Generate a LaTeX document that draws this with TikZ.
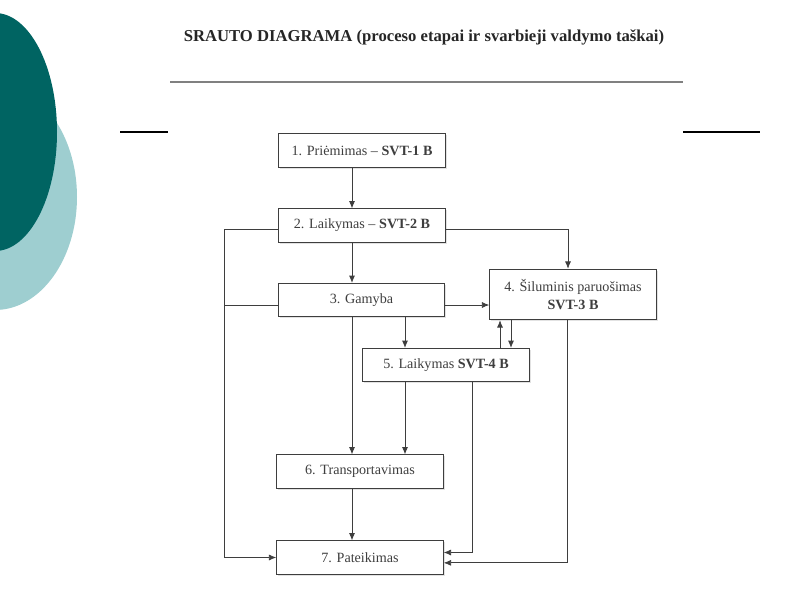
\documentclass[tikz,border=0pt]{standalone}
\usepackage{fontspec}
\setmainfont{Liberation Serif}
\usepackage{tikz}
\usetikzlibrary{arrows.meta}
\usetikzlibrary{shadows}
\definecolor{darkteal}{RGB}{0,100,98}
\definecolor{lightteal}{RGB}{158,206,208}
\definecolor{inkgray}{RGB}{62,62,62}

\begin{document}
\begin{tikzpicture}[x=0.75pt,y=-0.75pt,
        stage/.style={draw=inkgray,fill=white,line width=0.6pt,
            minimum width=125pt,minimum height=25pt,inner sep=2pt,
            text=inkgray,font=\fontsize{10.6}{13}\selectfont,
            drop shadow={shadow xshift=1.2pt,shadow yshift=-1.2pt,fill=gray!45}},
        flow/.style={draw=inkgray,line width=0.6pt,-{Latex[length=5.5pt,width=4.5pt]}}]
        \useasboundingbox (0,0) rectangle (800,600);

        % Background
        \fill [lightteal] (-5,197) ellipse [x radius=82, y radius=113];
        \fill [darkteal]  (-5,132) ellipse [x radius=62, y radius=119];
        \draw [gray,line width=1pt] (170,82) -- (683,82);
        \draw [black,line width=0.8pt] (120,132) -- (168,132);
        \draw [black,line width=0.8pt] (683,132) -- (760,132);

        % Title
        \node [text=black!85] (title) at (424,37)
            {\fontsize{12.5}{15}\selectfont\bfseries SRAUTO DIAGRAMA (proceso etapai ir svarbieji valdymo taškai)};

        % Stages
        \node [stage] (b1) at (362,150.5) {1. Priėmimas – \textbf{SVT-1 B}};
        \node [stage] (b2) at (362,225.5) {2. Laikymas – \textbf{SVT-2 B}};
        \node [stage] (b3) at (361.5,300) {3. Gamyba};
        \node [stage,minimum height=38pt,align=center] (b4) at (573,294.5)
            {4. Šiluminis paruošimas\\ \textbf{SVT-3 B}};
        \node [stage] (b5) at (446,365) {5. Laikymas \textbf{SVT-4 B}};
        \node [stage] (b6) at (360,471.5) {6. Transportavimas};
        \node [stage] (b7) at (360,557.5) {7. Pateikimas};

        % Rails
        \coordinate (lrail) at (224,0);
        \coordinate (col)   at (352,0);
        \coordinate (mid)   at (405,0);
        \coordinate (up)    at (500,0);
        \coordinate (down)  at (511,0);
        \coordinate (b5out) at (472,0);
        \path ([yshift=-3pt]b2.west) coordinate (b2w);
        \path ([yshift=-3pt]b2.east) coordinate (b2e);
        \path ([yshift=-3.75pt]b3.west) coordinate (b3w);
        \path ([yshift=-3.75pt]b3.east) coordinate (b3e);

        % Flow
        \draw [flow] (col |- b1.south) -- (col |- b2.north);
        \draw [flow] (col |- b2.south) -- (col |- b3.north);
        \draw [flow] (col |- b3.south) -- (col |- b6.north);
        \draw [flow] (col |- b6.south) -- (col |- b7.north);
        \draw [flow] (b2w) -| (lrail |- b7.west) -- (b7.west);
        \draw [draw=inkgray,line width=0.6pt] (b3w) -- (b3w -| lrail);
        \draw [flow] (b2e) -| ([xshift=-3.75pt]b4.north);
        \draw [flow] (b3e) -- (b3e -| b4.west);
        \draw [flow] (mid |- b3.south) -- (mid |- b5.north);
        \draw [flow] (up |- b5.north) -- (up |- b4.south);
        \draw [flow] (down |- b4.south) -- (down |- b5.north);
        \draw [flow] (mid |- b5.south) -- (mid |- b6.north);
        \draw [flow] (b5out |- b5.south) |- ([yshift=3.75pt]b7.east);
        \draw [flow] ([xshift=-4pt]b4.south) |- ([yshift=-4pt]b7.east);
\end{tikzpicture}
\end{document}
